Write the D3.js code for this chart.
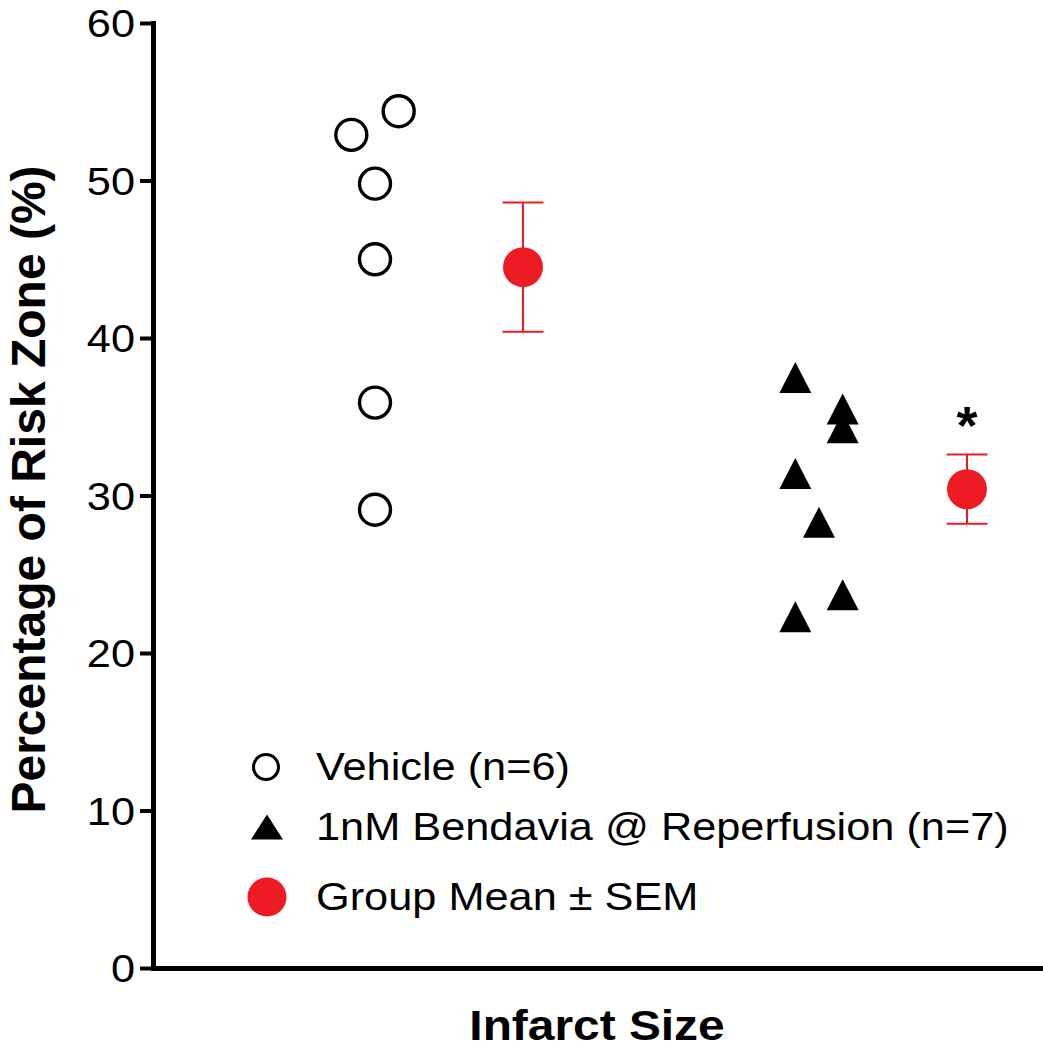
<!DOCTYPE html>
<html>
<head>
<meta charset="utf-8">
<script src="https://cdn.jsdelivr.net/npm/d3@7"></script>
<style>
    html, body { margin: 0; padding: 0; background: #fff; }
    svg { display: block; font-family: "Liberation Sans", Arial, sans-serif; }
</style>
</head>
<body>
<div id="chart"></div>
<script>
// Infarct size scatter: individual hearts + group mean ± SEM

const groupLabels = ['Vehicle (n=6)', '1nM Bendavia @ Reperfusion (n=7)', 'Group Mean \u00b1 SEM'];

const vehicleValues = [52.9, 54.4, 49.8, 45.0, 35.9, 29.1];
const vehicleJitter = [-0.16, 0.16, 0, 0, 0, 0];

const bendaviaValues = [37.5, 35.5, 34.3, 31.4, 28.3, 23.7, 22.3];
const bendaviaJitter = [-0.16, 0.16, 0.16, -0.16, 0, 0.16, -0.16];

const groupPositions = [1, 4];      // where each group's scatter sits
const meanPositions = [2, 5];       // where the mean ± SEM sits
const meanValues = [44.5, 30.4];
const semValues = [4.1, 2.2];
const significant = [false, true];

const yTicks = [0, 10, 20, 30, 40, 50, 60];

const W = 1043, H = 1050;
const red = '#ed1c24';
const stretch = 1.14;   // the original font runs wider than Arial

const svg = d3.select('#chart')
    .append('svg')
    .attr('width', W)
    .attr('height', H);

const x = d3.scaleLinear().domain([-0.5, 5.5]).range([153, 1041]);
const y = d3.scaleLinear().domain([0, 60]).range([968, 23]);

// Y axis
const yAxis = svg.append('g')
    .attr('transform', `translate(${x(-0.5)},0)`)
    .call(d3.axisLeft(y).tickValues(yTicks).tickSize(13).tickSizeOuter(0).tickFormat(d3.format('d')));

yAxis.select('.domain')
    .attr('stroke-width', 5)
    .attr('stroke-linecap', 'square');
yAxis.selectAll('.tick line').attr('stroke-width', 4);
yAxis.selectAll('.tick text')
    .attr('x', null)
    .attr('dy', '0.36em')
    .attr('transform', `translate(-18,0) scale(${stretch},1)`)
    .style('font-size', '38px')
    .attr('fill', '#000');

// X axis (no ticks)
const xAxis = svg.append('g')
    .attr('transform', `translate(0,${y(0)})`)
    .call(d3.axisBottom(x).tickValues([]).tickSizeOuter(0));
xAxis.select('.domain')
    .attr('stroke-width', 5)
    .attr('stroke-linecap', 'square');

// Axis titles
svg.append('text')
    .attr('transform', `translate(45,${(y(0) + y(60)) / 2 - 6}) rotate(-90)`)
    .attr('text-anchor', 'middle')
    .style('font-size', '48px')
    .style('font-weight', 'bold')
    .text('Percentage of Risk Zone (%)');

svg.append('text')
    .attr('transform', `translate(${(x(-0.5) + x(5.5)) / 2},1040) scale(${stretch},1)`)
    .attr('text-anchor', 'middle')
    .style('font-size', '42px')
    .style('font-weight', 'bold')
    .text('Infarct Size');

// Vehicle: open circles
svg.append('g')
    .selectAll('circle')
    .data(vehicleValues)
    .join('circle')
    .attr('cx', (d, i) => x(groupPositions[0] + vehicleJitter[i]))
    .attr('cy', d => y(d))
    .attr('r', 15.5)
    .attr('fill', 'none')
    .attr('stroke', '#000')
    .attr('stroke-width', 3.4);

// Bendavia: filled triangles
const tri = (hw, h) => `M0,${-h / 2}L${hw},${h / 2}L${-hw},${h / 2}Z`;
svg.append('g')
    .selectAll('path')
    .data(bendaviaValues)
    .join('path')
    .attr('transform', (d, i) => `translate(${x(groupPositions[1] + bendaviaJitter[i])},${y(d)})`)
    .attr('d', tri(16, 31))
    .attr('fill', '#000');

// Group mean ± SEM
const meanG = svg.append('g');
meanValues.forEach((m, i) => {
    const cx = x(meanPositions[i]);
    const top = y(m + semValues[i]);
    const bot = y(m - semValues[i]);
    meanG.append('line')
        .attr('x1', cx).attr('x2', cx)
        .attr('y1', top).attr('y2', bot)
        .attr('stroke', red).attr('stroke-width', 2);
    [top, bot].forEach(yy => {
        meanG.append('line')
            .attr('x1', cx - 20.5).attr('x2', cx + 20.5)
            .attr('y1', yy).attr('y2', yy)
            .attr('stroke', red).attr('stroke-width', 2);
    });
    meanG.append('circle')
        .attr('cx', cx).attr('cy', y(m))
        .attr('r', 20)
        .attr('fill', red);
    if (significant[i]) {
        meanG.append('text')
            .attr('x', cx)
            .attr('y', top - 11)
            .attr('text-anchor', 'middle')
            .style('font-size', '54px')
            .style('font-weight', 'bold')
            .text('*');
    }
});

// Legend
const legend = svg.append('g');
const legendRows = [767, 827, 897];
const legendX = 266;

legend.append('circle')
    .attr('cx', legendX).attr('cy', legendRows[0])
    .attr('r', 12.5)
    .attr('fill', 'none')
    .attr('stroke', '#000')
    .attr('stroke-width', 3);

legend.append('path')
    .attr('transform', `translate(${legendX + 1},${legendRows[1]})`)
    .attr('d', tri(16, 25))
    .attr('fill', '#000');

legend.append('circle')
    .attr('cx', legendX + 1).attr('cy', legendRows[2])
    .attr('r', 19.5)
    .attr('fill', red);

legend.selectAll('text')
    .data(groupLabels)
    .join('text')
    .attr('transform', (d, i) => `translate(316,${legendRows[i] + 13}) scale(${stretch},1)`)
    .style('font-size', '38px')
    .text(d => d);
</script>
</body>
</html>
